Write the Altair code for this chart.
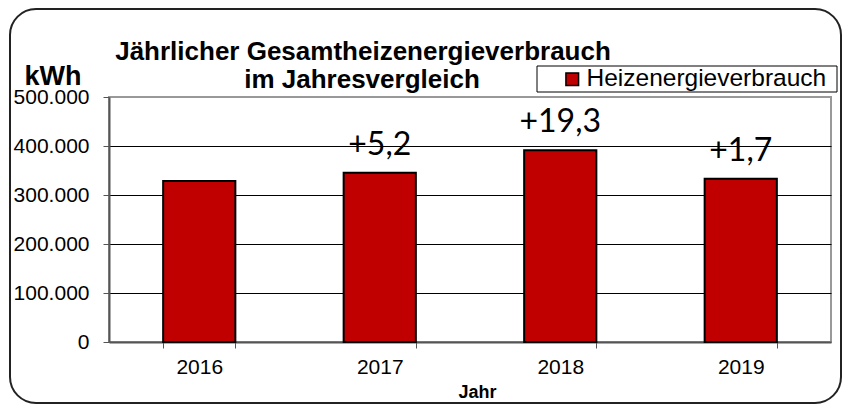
import altair as alt
import pandas as pd

# ---- data ----
years = ["2016", "2017", "2018", "2019"]
consumption_kwh = [328600, 345600, 391200, 333300]
change_labels = ["", "+5,2", "+19,3", "+1,7"]
series_name = "Heizenergieverbrauch"
y_ticks = [0, 100000, 200000, 300000, 400000, 500000]
title_lines = ["Jährlicher Gesamtheizenergieverbrauch", "im Jahresvergleich"]

df = pd.DataFrame({
    "Jahr": years,
    "kWh": consumption_kwh,
    "label": change_labels,
    "Serie": [series_name] * len(years),
})

FONT = "Liberation Sans"
RED = "#C00000"

x_enc = alt.X(
    "Jahr:N",
    title="Jahr",
    scale=alt.Scale(paddingInner=0.6, paddingOuter=0.3),
    axis=alt.Axis(
        labelAngle=0,
        tickBand="extent",
        labelFontSize=21,
        labelColor="black",
        labelPadding=8,
        tickSize=6,
        tickColor="#555",
        domainColor="#555",
        domainWidth=2,
        titleFontSize=18,
        titleFontWeight="bold",
        titleColor="black",
        titlePadding=6,
        titleX=368,
    ),
)

y_enc = alt.Y(
    "kWh:Q",
    scale=alt.Scale(domain=[0, 500000], nice=False),
    axis=alt.Axis(
        values=y_ticks,
        labelExpr="replace(format(datum.value, ','), ',', '.')",
        labelFontSize=21,
        labelColor="black",
        labelPadding=14,
        tickSize=6,
        tickColor="#555",
        domainColor="#555",
        domainWidth=2,
        grid=True,
        gridColor="black",
        gridWidth=1,
        gridOpacity=alt.condition("datum.value >= 500000 || datum.value <= 0", alt.value(0), alt.value(1)),
        title="kWh",
        titleAngle=0,
        titleFontSize=27,
        titleFontWeight="bold",
        titleColor="black",
        titleAlign="left",
        titleBaseline="alphabetic",
        titleX=-85,
        titleY=-13,
    ),
)

base = alt.Chart(df)

one = pd.DataFrame({"f": [0]})

legend_box = alt.Chart(one).mark_rect(
    fill="white", stroke="black", strokeWidth=1
).encode(x=alt.value(428), x2=alt.value(728), y=alt.value(-31), y2=alt.value(-5))

bars = base.mark_bar(stroke="black", strokeWidth=2).encode(
    x=x_enc,
    y=y_enc,
    color=alt.Color(
        "Serie:N",
        scale=alt.Scale(domain=[series_name], range=[RED]),
        legend=alt.Legend(
            title=None,
            orient="none",
            legendX=450,
            legendY=-31,
            padding=1,
            symbolType="square",
            symbolSize=160,
            symbolStrokeColor="black",
            symbolStrokeWidth=1.5,
            labelOffset=2,
            labelFontSize=24.5,
            labelLimit=0,
            labelColor="black",
            labelFont=FONT,
        ),
    ),
)

labels = base.mark_text(
    font="Lato", fontSize=32, color="black", baseline="alphabetic", dy=-18
).encode(x="Jahr:N", y="kWh:Q", text="label:N")

frame = alt.Chart(one).mark_rect(
    fillOpacity=0, stroke="#222", strokeWidth=2, cornerRadius=26
).encode(
    x=alt.value(-99), x2=alt.value(732), y=alt.value(-88), y2=alt.value(306)
)

title1 = alt.Chart(one).mark_text(
    font=FONT, fontSize=26, fontWeight="bold", color="black",
    align="center", baseline="alphabetic", text=title_lines[0]
).encode(x=alt.value(254), y=alt.value(-37))

title2 = alt.Chart(one).mark_text(
    font=FONT, fontSize=26, fontWeight="bold", color="black",
    align="center", baseline="alphabetic", text=title_lines[1]
).encode(x=alt.value(253), y=alt.value(-9))

chart = alt.layer(legend_box, bars, labels, frame, title1, title2).properties(
    width=722,
    height=245,
    autosize=alt.AutoSizeParams(type="none"),
    padding={"left": 101, "top": 89, "right": 11, "bottom": 66},
).configure(font=FONT).configure_view(stroke="#999", strokeWidth=2)

chart.save("out.html", embed_options={"renderer": "svg", "actions": False})
